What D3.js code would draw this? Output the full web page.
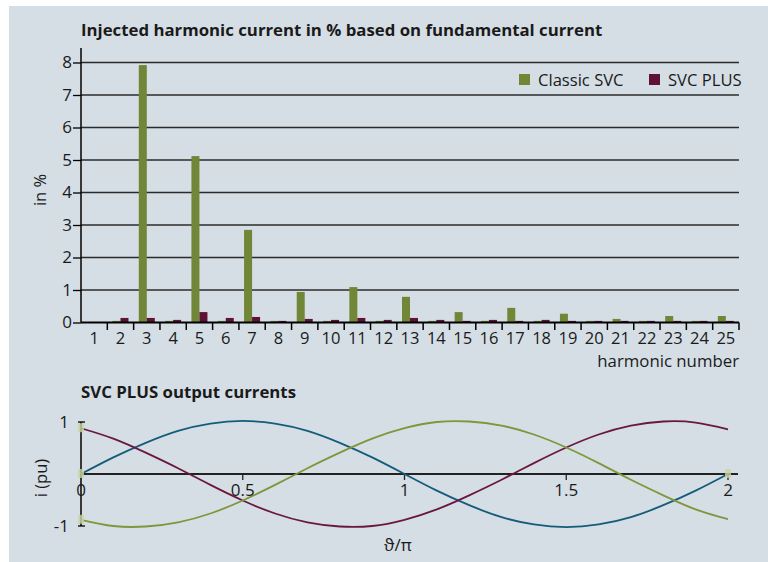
<!DOCTYPE html>
<html><head><meta charset="utf-8">
<script src="https://cdn.jsdelivr.net/npm/d3@7"></script>
<style>
html,body{margin:0;padding:0;background:#fff;}
text{font-family:"Open Sans","Noto Sans",sans-serif;fill:#1a1a1a;}
</style></head>
<body>
<svg id="c" width="768" height="562"></svg>
<script>
// ---- data: top chart ----
const harmonics = [1,2,3,4,5,6,7,8,9,10,11,12,13,14,15,16,17,18,19,20,21,22,23,24,25];
const classicSVC = [0,0.05,7.92,0.05,5.12,0.05,2.85,0.05,0.94,0.05,1.09,0.05,0.79,0.05,0.32,0.05,0.45,0.05,0.27,0.05,0.11,0.05,0.2,0.05,0.2];
const svcPlus    = [0,0.14,0.14,0.08,0.32,0.14,0.17,0.05,0.11,0.08,0.14,0.08,0.14,0.08,0.05,0.08,0.05,0.08,0.05,0.05,0.05,0.05,0.05,0.05,0.05];
const yTicksTop = [0,1,2,3,4,5,6,7,8];
const seriesNames = ["Classic SVC","SVC PLUS"];
// ---- data: bottom chart ----
const theta = [0,0.1,0.2,0.3,0.4,0.5,0.6,0.7,0.8,0.9,1.0,1.1,1.2,1.3,1.4,1.5,1.6,1.7,1.8,1.9,2.0];
const phaseBlue   = [0,0.32,0.60,0.83,0.97,1.02,0.97,0.83,0.60,0.32,0,-0.32,-0.60,-0.83,-0.97,-1.02,-0.97,-0.83,-0.60,-0.32,0];
const phaseMaroon = [0.88,0.68,0.41,0.11,-0.21,-0.51,-0.76,-0.93,-1.01,-1.00,-0.88,-0.68,-0.41,-0.11,0.21,0.51,0.76,0.93,1.01,0.99,0.86];
const phaseGreen  = [-0.88,-1.00,-1.01,-0.93,-0.76,-0.51,-0.21,0.11,0.41,0.68,0.88,1.00,1.01,0.93,0.76,0.51,0.21,-0.11,-0.41,-0.68,-0.87];
const xTicksBottom = [0,0.5,1,1.5,2];
const yTicksBottom = [-1,1];

const svg = d3.select("#c");
const green = "#718737", maroon = "#5f1236";
svg.append("rect").attr("x",9).attr("y",6).attr("width",759).attr("height",556).attr("fill","#d5dee5");

// ---------- top chart ----------
const x0 = d3.scaleBand().domain(harmonics).range([81,739]);
const y = d3.scaleLinear().domain([0,8]).range([322.5,62.5]);
const barW = 8;

svg.append("text").attr("x",81).attr("y",36).attr("font-size",16.8).attr("font-weight","bold")
  .text("Injected harmonic current in % based on fundamental current");

// grid
svg.append("g").selectAll("line").data(yTicksTop.filter(d=>d>0)).join("line")
  .attr("x1",81).attr("x2",739).attr("y1",d=>y(d)).attr("y2",d=>y(d))
  .attr("stroke","#2b2b2b").attr("stroke-width",1.3);

// bars
const bg = svg.append("g");
bg.selectAll("rect.c").data(harmonics).join("rect").attr("class","c")
  .attr("x",(d)=>x0(d)+x0.bandwidth()/2-barW).attr("width",barW)
  .attr("y",(d,i)=>y(classicSVC[i])).attr("height",(d,i)=>y(0)-y(classicSVC[i])).attr("fill",green);
bg.selectAll("rect.p").data(harmonics).join("rect").attr("class","p")
  .attr("x",(d)=>x0(d)+x0.bandwidth()/2).attr("width",barW)
  .attr("y",(d,i)=>y(svcPlus[i])).attr("height",(d,i)=>y(0)-y(svcPlus[i])).attr("fill",maroon);

// y axis
const yAx = svg.append("g").attr("transform","translate(81,0)")
  .call(d3.axisLeft(y).tickValues(yTicksTop).tickSize(8).tickFormat(d3.format("d")));
yAx.select(".domain").attr("d","M0,48V322.5").attr("stroke","#000").attr("stroke-width",1.5);
yAx.selectAll(".tick line").attr("stroke","#000").attr("stroke-width",1.3);
yAx.selectAll(".tick text").attr("font-size",17).attr("x",-9).attr("fill","#1a1a1a").attr("font-family","'Open Sans',sans-serif");

// x axis
const xAx = svg.append("g").attr("transform","translate(0,322.5)")
  .call(d3.axisBottom(x0).tickSize(0).tickPadding(10));
xAx.select(".domain").attr("stroke","#000").attr("stroke-width",2).attr("d","M81,0H739");
xAx.selectAll(".tick text").attr("font-size",16.5).attr("fill","#1a1a1a").attr("font-family","'Open Sans',sans-serif");
svg.append("g").selectAll("line").data(harmonics).join("line")
  .attr("x1",d=>x0(d)+x0.bandwidth()).attr("x2",d=>x0(d)+x0.bandwidth())
  .attr("y1",322.5).attr("y2",330).attr("stroke","#000").attr("stroke-width",1.5);

svg.append("text").attr("x",739).attr("y",367).attr("text-anchor","end").attr("font-size",16.8).text("harmonic number");
svg.append("text").attr("transform","translate(46,190) rotate(-90)").attr("text-anchor","middle").attr("font-size",16.5).text("in %");

// legend
const lg = svg.append("g");
const legX = [519,649];
lg.selectAll("rect").data(seriesNames).join("rect")
  .attr("x",(d,i)=>legX[i]).attr("y",74).attr("width",11).attr("height",11).attr("fill",(d,i)=>i?maroon:green);
lg.selectAll("text").data(seriesNames).join("text")
  .attr("x",(d,i)=>legX[i]+19).attr("y",86).attr("font-size",16.6).text(d=>d);

// ---------- bottom chart ----------
const xb = d3.scaleLinear().domain([0,2]).range([81,728]);
const yb = d3.scaleLinear().domain([-1,1]).range([526,422]);

svg.append("text").attr("x",81).attr("y",398).attr("font-size",16.8).attr("font-weight","bold").text("SVC PLUS output currents");

// y axis
svg.append("line").attr("x1",81).attr("x2",81).attr("y1",yb(1)).attr("y2",yb(-1)).attr("stroke","#000").attr("stroke-width",1.5);
svg.append("g").selectAll("line").data(yTicksBottom).join("line")
  .attr("x1",78).attr("x2",85).attr("y1",d=>yb(d)).attr("y2",d=>yb(d)).attr("stroke","#000").attr("stroke-width",1.3);
svg.append("g").selectAll("text").data(yTicksBottom).join("text")
  .attr("x",69).attr("y",d=>yb(d)+6).attr("text-anchor","end").attr("font-size",17).text(d=>d);

// zero line
svg.append("line").attr("x1",81).attr("x2",738).attr("y1",yb(0)).attr("y2",yb(0)).attr("stroke","#222").attr("stroke-width",2);
svg.append("g").selectAll("line").data(xTicksBottom.filter(d=>d>0)).join("line")
  .attr("x1",d=>xb(d)).attr("x2",d=>xb(d)).attr("y1",yb(0)).attr("y2",yb(0)+6).attr("stroke","#222").attr("stroke-width",1.3);

// curves
const line = d3.line().x((d,i)=>xb(theta[i])).y(d=>yb(d)).curve(d3.curveNatural);
const curves = [[phaseBlue,"#155b7a"],[phaseMaroon,"#6a1742"],[phaseGreen,"#7f963a"]];
svg.append("g").selectAll("path").data(curves).join("path")
  .attr("d",d=>line(d[0])).attr("fill","none").attr("stroke",d=>d[1]).attr("stroke-width",1.8);

// start/end markers (pale)
const marks = [[0,phaseMaroon[0]],[0,phaseBlue[0]],[0,phaseGreen[0]],[2,phaseBlue[20]]];
svg.append("g").selectAll("rect").data(marks).join("rect")
  .attr("x",d=>xb(d[0])-3).attr("y",d=>yb(d[1])-5).attr("width",6).attr("height",9)
  .attr("fill","#c8d3a6").attr("opacity",0.8);

svg.append("g").selectAll("text").data(xTicksBottom).join("text")
  .attr("x",d=>xb(d)).attr("y",yb(0)+22).attr("text-anchor","middle").attr("font-size",17).text(d=>d);

svg.append("text").attr("x",398).attr("y",551).attr("text-anchor","middle").attr("font-size",17).text("ϑ/π");
svg.append("text").attr("transform","translate(47,478) rotate(-90)").attr("text-anchor","middle").attr("font-size",16.5).text("i (pu)");
</script>
</body></html>
